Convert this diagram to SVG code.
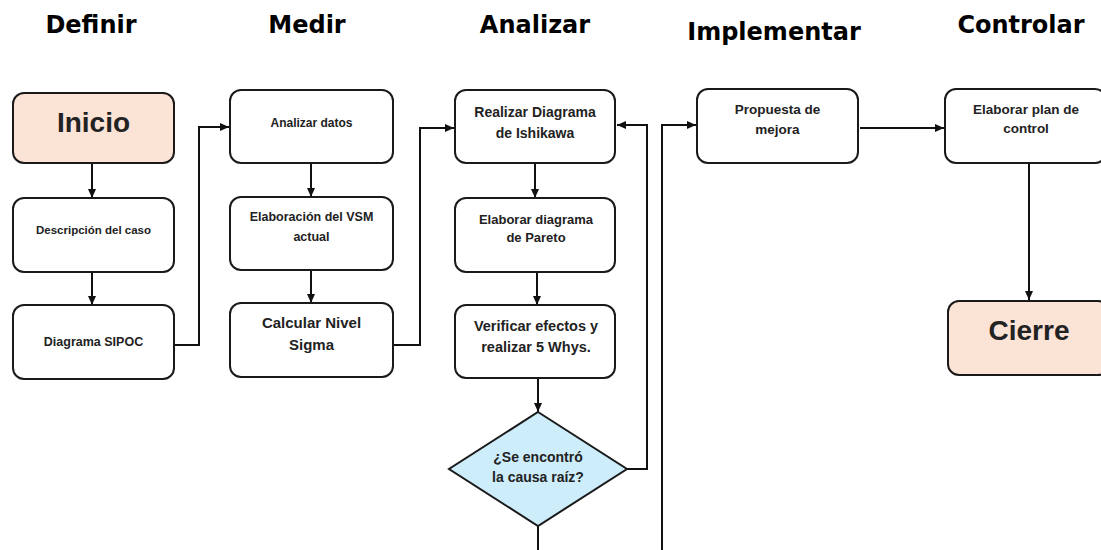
<svg xmlns="http://www.w3.org/2000/svg" width="1101" height="550" viewBox="0 0 1101 550">
<defs>
<marker id="arr" markerUnits="userSpaceOnUse" markerWidth="10" markerHeight="10" refX="9" refY="5" orient="auto">
<path d="M0,1 L9,5 L0,9 Z" fill="#111"/>
</marker>
<style>
.box{fill:#fff;stroke:#1a1a1a;stroke-width:2}
.peach{fill:#FBE3D6;stroke:#1a1a1a;stroke-width:2}
.dia{fill:#CDEDFB;stroke:#1a1a1a;stroke-width:2}
.t{font-family:"Liberation Sans",Arial,sans-serif;font-weight:bold;fill:#222;text-anchor:middle}
.title{font-family:"DejaVu Sans",Verdana,sans-serif;font-weight:bold;fill:#000;font-size:24px;text-anchor:middle}
.c{fill:none;stroke:#111;stroke-width:2;marker-end:url(#arr)}
.cn{fill:none;stroke:#111;stroke-width:2}
</style>
</defs>
<rect width="1101" height="550" fill="#fff"/>
<g id="titles">
<text class="title" x="91" y="33">Definir</text>
<text class="title" x="307" y="33">Medir</text>
<text class="title" x="535" y="33">Analizar</text>
<text class="title" x="774" y="40">Implementar</text>
<text class="title" x="1021" y="33">Controlar</text>
</g>
<g id="connectors">
<path class="c" d="M92 163 V198"/>
<path class="c" d="M92 272 V305"/>
<path class="c" d="M174 345 H199 V127 H229"/>
<path class="c" d="M311 163 V197"/>
<path class="c" d="M311 270 V303"/>
<path class="c" d="M393 345 H420 V128 H454"/>
<path class="c" d="M535 163 V198"/>
<path class="c" d="M537 272 V305"/>
<path class="c" d="M538 378 V412"/>
<path class="c" d="M627 469 H647 V125 H617"/>
<path class="cn" d="M538 526 V550"/>
<path class="c" d="M662 550 V125 H696"/>
<path class="c" d="M860 128 H944"/>
<path class="c" d="M1029 163 V300"/>
</g>
<g id="inicio">
<rect class="peach" x="13" y="93" width="161" height="70" rx="11"/>
<text class="t" x="93.5" y="132" font-size="28">Inicio</text>
</g>
<g id="descripcion">
<rect class="box" x="13" y="198" width="161" height="74" rx="11"/>
<text class="t" x="93.5" y="234" font-size="11.5">Descripción del caso</text>
</g>
<g id="sipoc">
<rect class="box" x="13" y="305" width="161" height="74" rx="11"/>
<text class="t" x="93.5" y="346" font-size="12.5">Diagrama SIPOC</text>
</g>
<g id="analizar-datos">
<rect class="box" x="230" y="90" width="163" height="73" rx="11"/>
<text class="t" x="311.5" y="127" font-size="12">Analizar datos</text>
</g>
<g id="vsm">
<rect class="box" x="230" y="197" width="163" height="73" rx="11"/>
<text class="t" x="311.5" y="221" font-size="12.5">Elaboración del VSM</text>
<text class="t" x="311.5" y="241" font-size="12.5">actual</text>
</g>
<g id="sigma">
<rect class="box" x="230" y="303" width="163" height="74" rx="11"/>
<text class="t" x="311.5" y="328" font-size="15">Calcular Nivel</text>
<text class="t" x="311.5" y="350" font-size="15">Sigma</text>
</g>
<g id="ishikawa">
<rect class="box" x="455" y="90" width="160" height="73" rx="11"/>
<text class="t" x="535" y="117" font-size="14">Realizar Diagrama</text>
<text class="t" x="535" y="138" font-size="14">de Ishikawa</text>
</g>
<g id="pareto">
<rect class="box" x="455" y="198" width="160" height="74" rx="11"/>
<text class="t" x="536" y="224" font-size="13">Elaborar diagrama</text>
<text class="t" x="536" y="242" font-size="13">de Pareto</text>
</g>
<g id="verificar">
<rect class="box" x="455" y="305" width="160" height="73" rx="11"/>
<text class="t" x="536" y="331" font-size="14.5">Verificar efectos y</text>
<text class="t" x="536" y="352" font-size="14.5">realizar 5 Whys.</text>
</g>
<g id="decision">
<polygon class="dia" points="538,412 627,469 538,526 449,469"/>
<text class="t" x="538" y="462" font-size="14">¿Se encontró</text>
<text class="t" x="538" y="482" font-size="14">la causa raíz?</text>
</g>
<g id="propuesta">
<rect class="box" x="697" y="89" width="161" height="74" rx="11"/>
<text class="t" x="777.5" y="114" font-size="13.5">Propuesta de</text>
<text class="t" x="777.5" y="134" font-size="13.5">mejora</text>
</g>
<g id="plan-control">
<rect class="box" x="945" y="89" width="161" height="74" rx="11"/>
<text class="t" x="1026" y="114" font-size="13.5">Elaborar plan de</text>
<text class="t" x="1026" y="133" font-size="13.5">control</text>
</g>
<g id="cierre">
<rect class="peach" x="948" y="301" width="161" height="74" rx="11"/>
<text class="t" x="1029" y="340" font-size="28">Cierre</text>
</g>
</svg>
